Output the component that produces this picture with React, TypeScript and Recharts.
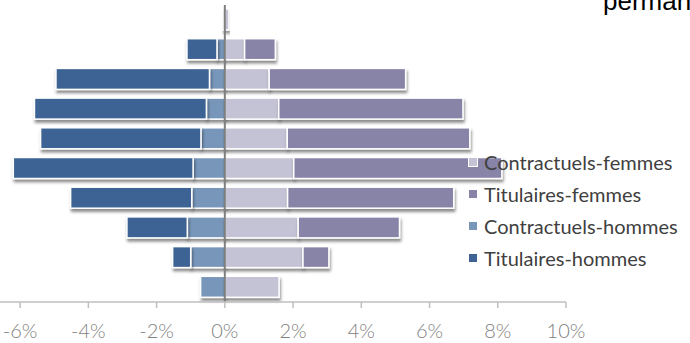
import { BarChart, Bar, XAxis, YAxis, ReferenceLine } from 'recharts'

// tranches d'âge, du haut vers le bas
const AGES = ['65 +', '60-64', '55-59', '50-54', '45-49', '40-44', '35-39', '30-34', '25-29', '< 25']

// en % de l'effectif total (hommes saisis en positif, tracés à gauche)
const TITULAIRES_HOMMES = [0, 0.88, 4.5, 5.04, 4.7, 5.27, 3.55, 1.77, 0.53, 0]
const CONTRACTUELS_HOMMES = [0.05, 0.23, 0.45, 0.54, 0.7, 0.93, 0.97, 1.1, 1.0, 0.71]
const CONTRACTUELS_FEMMES = [0.12, 0.58, 1.3, 1.58, 1.83, 2.02, 1.84, 2.15, 2.29, 1.59]
const TITULAIRES_FEMMES = [0, 0.9, 4.0, 5.4, 5.35, 6.1, 4.87, 2.97, 0.76, 0]

const X_TICKS = [-6, -4, -2, 0, 2, 4, 6, 8, 10]

const COLORS = {
  th: '#3d6494',
  ch: '#7796ba',
  cf: '#c4c3d5',
  tf: '#8884a8',
}

const LEGEND = [
  { label: 'Contractuels-femmes', color: COLORS.cf },
  { label: 'Titulaires-femmes', color: COLORS.tf },
  { label: 'Contractuels-hommes', color: COLORS.ch },
  { label: 'Titulaires-hommes', color: COLORS.th },
]

const data = AGES.map((age, i) => ({
  age,
  ch: -CONTRACTUELS_HOMMES[i],
  th: -TITULAIRES_HOMMES[i],
  cf: CONTRACTUELS_FEMMES[i],
  tf: TITULAIRES_FEMMES[i],
}))

const FONT = 'Lato, "Open Sans", sans-serif'

function ShadowRect(props: any) {
  const { x, y, width, height, fill } = props
  if (!width || !height) return null
  const rx = width < 0 ? x + width : x
  const w = Math.abs(width)
  return (
    <rect x={rx} y={y} width={w} height={height} fill={fill}
      stroke="#fff" strokeWidth={1.5} filter="url(#barShadow)" />
  )
}

export default function App() {
  return (
    <div style={{ position: 'absolute', left: 0, top: 0, width: 690, height: 343, overflow: 'hidden', background: '#fff', fontFamily: FONT }}>
      <div style={{ position: 'absolute', left: 603, top: -12, fontFamily: '"Liberation Sans", Arial, sans-serif',
        fontSize: 26, lineHeight: '26px', color: '#000', whiteSpace: 'nowrap' }}>
        permanents
      </div>
      <BarChart width={690} height={343} data={data} layout="vertical" stackOffset="sign"
        margin={{ top: 5, right: 124, left: 0, bottom: 0 }} barSize={21}>
        <defs>
          <filter id="barShadow" x="-20%" y="-40%" width="140%" height="200%">
            <feDropShadow dx="1" dy="3" stdDeviation="1.6" floodColor="#000" floodOpacity="0.45" />
          </filter>
        </defs>
        <XAxis type="number" domain={[-6.59, 10]} ticks={X_TICKS} allowDataOverflow
          tickFormatter={(v: number) => `${v}%`} height={41}
          axisLine={{ stroke: '#bfbfbf', strokeWidth: 1.5 }}
          tickLine={{ stroke: '#bfbfbf', strokeWidth: 1.5 }} tickSize={6} tickMargin={16}
          tick={{ fill: '#7f7f7f', fontSize: 20, fontFamily: FONT, fontWeight: 300 }} />
        <YAxis type="category" dataKey="age" hide />
        <Bar dataKey="ch" stackId="a" fill={COLORS.ch} shape={<ShadowRect />} isAnimationActive={false} />
        <Bar dataKey="th" stackId="a" fill={COLORS.th} shape={<ShadowRect />} isAnimationActive={false} />
        <Bar dataKey="cf" stackId="a" fill={COLORS.cf} shape={<ShadowRect />} isAnimationActive={false} />
        <Bar dataKey="tf" stackId="a" fill={COLORS.tf} shape={<ShadowRect />} isAnimationActive={false} />
        <ReferenceLine x={0} stroke="#7f7f7f" strokeWidth={2} />
      </BarChart>
      <div style={{ position: 'absolute', left: 468, top: 146 }}>
        {LEGEND.map(item => (
          <div key={item.label} style={{ display: 'flex', alignItems: 'center', height: 32 }}>
            <span style={{ width: 8, height: 8, background: item.color, border: '1px solid #fff', marginRight: 6 }} />
            <span style={{ fontSize: 20, fontWeight: 400, color: '#404040', lineHeight: '32px', whiteSpace: 'nowrap' }}>
              {item.label}
            </span>
          </div>
        ))}
      </div>
    </div>
  )
}
